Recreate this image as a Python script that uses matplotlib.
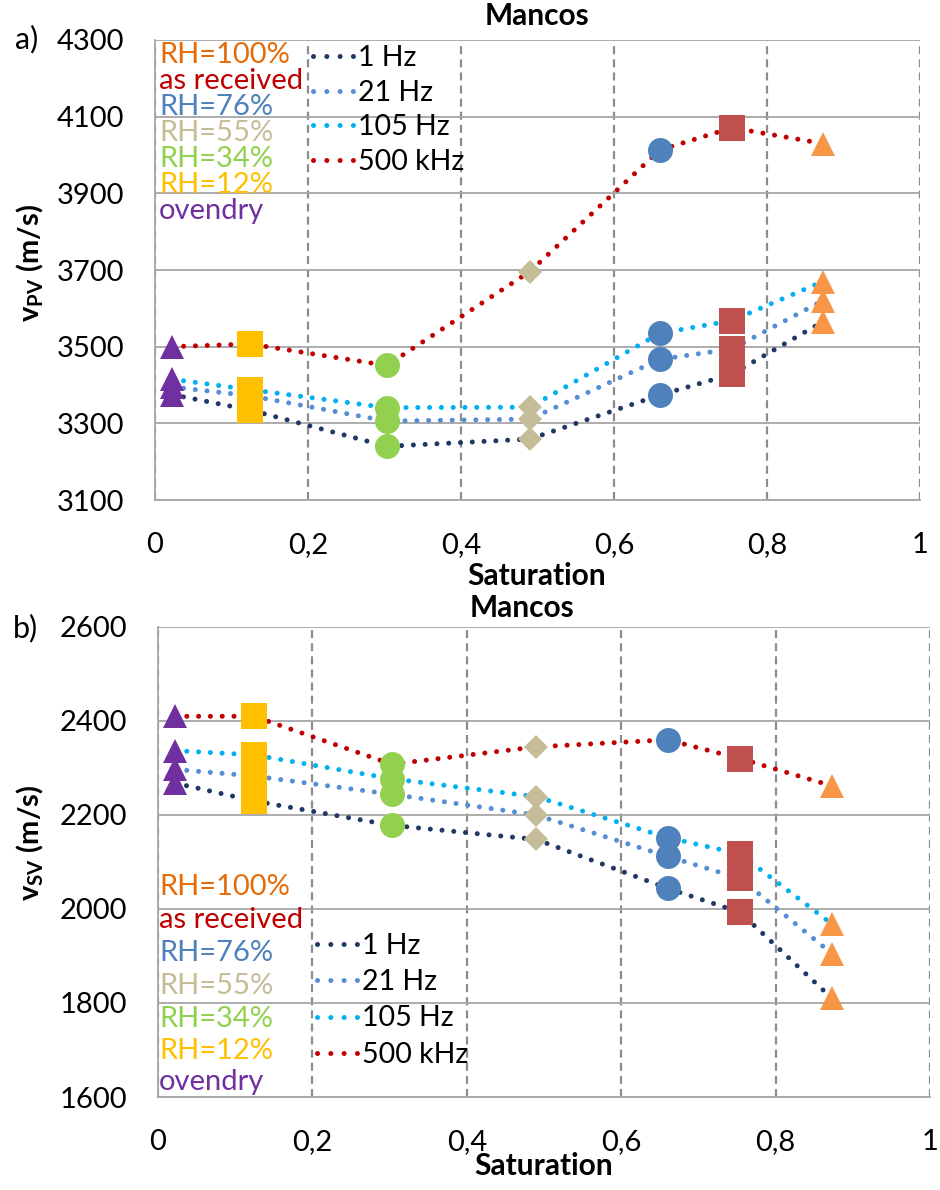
import matplotlib
matplotlib.use('Agg')
import matplotlib.pyplot as plt
from matplotlib.lines import Line2D

plt.rcParams['font.family'] = ['Lato', 'DejaVu Sans']

# DATA
# ----
# saturation of each state (same in both panels)
sat = [0.022, 0.124, 0.303, 0.49, 0.66, 0.754, 0.873]
states = ['ovendry', 'RH=12%', 'RH=34%', 'RH=55%', 'RH=76%', 'as received', 'RH=100%']

# a) P-wave velocity (m/s)
vp_1hz = [3375, 3335, 3240, 3259, 3374, 3428, 3565]
vp_21hz = [3395, 3372, 3306, 3311, 3467, 3494, 3620]
vp_105hz = [3415, 3388, 3341, 3342, 3535, 3568, 3670]
vp_500khz = [3500, 3507, 3451, 3696, 4013, 4071, 4030]

# b) S-wave velocity (m/s)
vs_1hz = [2268, 2230, 2178, 2148, 2044, 1993, 1810]
vs_21hz = [2297, 2283, 2244, 2200, 2112, 2065, 1905]
vs_105hz = [2337, 2328, 2277, 2239, 2152, 2117, 1968]
vs_500khz = [2410, 2410, 2308, 2345, 2360, 2320, 2262]

freq_labels = ['1 Hz', '21 Hz', '105 Hz', '500 kHz']
freq_colors = ['#203864', '#558ED5', '#00B0F0', '#C00000']

marker_shapes = ['^', 's', 'o', 'D', 'o', 's', '^']
marker_sizes = [17.5, 18.6, 18, 12.5, 18, 18.6, 17.5]
marker_colors = ['#7030A0', '#FFC000', '#92D050', '#C4BD97', '#4F81BD', '#C0504D', '#F79646']

text_lines = ['RH=100%', 'as received', 'RH=76%', 'RH=55%', 'RH=34%', 'RH=12%', 'ovendry']
text_colors = ['#E46C0A', '#C00000', '#4F81BD', '#C4BD97', '#92D050', '#FFC000', '#7030A0']

x_ticks = [0, 0.2, 0.4, 0.6, 0.8, 1]
x_ticklabels = ['0', '0,2', '0,4', '0,6', '0,8', '1']

W, H = 940, 1190
fig = plt.figure(figsize=(W / 100, H / 100), dpi=100)


def px_axes(l, r, t, b):
    return fig.add_axes([l / W, 1 - b / H, (r - l) / W, (b - t) / H])


def fy(py):
    return 1 - py / H


def draw_panel(ax, series, ylim, yticks):
    for vals, col, lab in zip(series, freq_colors, freq_labels):
        ax.plot(sat, vals, color=col, lw=3.6, ls=(0, (0.01, 2.35)),
                dash_capstyle='round', label=lab, zorder=3)
    for i in range(len(sat)):
        ys = [s[i] for s in series]
        ax.plot([sat[i]] * len(ys), ys, ls='none', marker=marker_shapes[i],
                ms=marker_sizes[i], color=marker_colors[i], mew=0, zorder=4)
    ax.set_xlim(0, 1)
    ax.set_ylim(*ylim)
    ax.set_xticks(x_ticks)
    ax.set_xticklabels(x_ticklabels)
    ax.set_yticks(yticks)
    ax.tick_params(length=0, labelsize=21, pad=22)
    ax.tick_params(axis='x', pad=23)
    ax.grid(axis='y', color='#A6A6A6', lw=1.3, zorder=1)
    ax.grid(axis='x', color='#8C8C8C', lw=1.6, ls=(0, (3.6, 2.3)), zorder=1)
    for sp in ['top', 'right']:
        ax.spines[sp].set_visible(False)
    for sp in ['left', 'bottom']:
        ax.spines[sp].set_color('#A6A6A6')
        ax.spines[sp].set_linewidth(1.3)


# panel a
ax1 = px_axes(155, 920, 40, 500)
draw_panel(ax1, [vp_1hz, vp_21hz, vp_105hz, vp_500khz], (3100, 4300),
           range(3100, 4301, 200))
# panel b
ax2 = px_axes(158, 930, 627, 1097)
draw_panel(ax2, [vs_1hz, vs_21hz, vs_105hz, vs_500khz], (1600, 2600),
           range(1600, 2601, 200))

# colored state labels
top_base = [63, 89, 115, 141, 167, 193, 219]
bot_base = [895, 928, 961, 994, 1027, 1059, 1090]
for txt, col, yb in zip(text_lines, text_colors, top_base):
    fig.text(159 / W, fy(yb), txt, color=col, fontsize=21, va='baseline', ha='left')
for txt, col, yb in zip(text_lines, text_colors, bot_base):
    fig.text(159 / W, fy(yb), txt, color=col, fontsize=21, va='baseline', ha='left')

# frequency legends
for ax, x0, y0, sp in [(ax1, 313, 45, 0.3), (ax2, 317, 933, 0.36)]:
    handles = [Line2D([], [], color=c, lw=3.6, ls=(0, (0.01, 2.65)),
                      dash_capstyle='round') for c in freq_colors]
    ax.legend(handles, freq_labels, loc='upper left', frameon=False,
              bbox_to_anchor=(x0 / W, fy(y0)), bbox_transform=fig.transFigure,
              fontsize=20.5, handlelength=1.45, handletextpad=0.12,
              labelspacing=sp, borderpad=0, borderaxespad=0)

# titles, axis labels, panel letters
for x, y, t in [(537, 16, 'Mancos'), (522, 608, 'Mancos'),
                (537, 576, 'Saturation'), (544, 1166, 'Saturation')]:
    fig.text(x / W, fy(y), t, fontsize=21.5, fontweight='bold', ha='center', va='center')
fig.text(30 / W, fy(263), r'v$_{\mathregular{PV}}$ (m/s)', fontsize=21,
         fontweight='bold', rotation=90, ha='center', va='center')
fig.text(30 / W, fy(843), r'v$_{\mathregular{SV}}$ (m/s)', fontsize=21,
         fontweight='bold', rotation=90, ha='center', va='center')
fig.text(27 / W, fy(39), 'a)', fontsize=22, ha='center', va='center')
fig.text(25 / W, fy(628), 'b)', fontsize=22, ha='center', va='center')

fig.savefig('out.png', dpi=100)
